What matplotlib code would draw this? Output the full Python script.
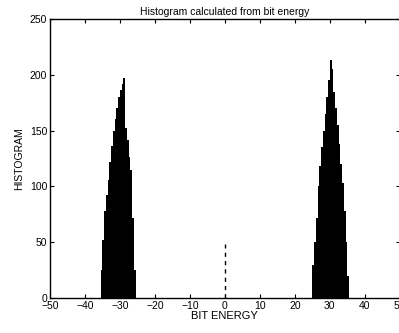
import numpy as np
import matplotlib.pyplot as plt

plt.rcParams['font.family'] = ['Liberation Sans', 'DejaVu Sans']

# histogram bins (width 0.5), left cluster around -30
left_edges = np.arange(-35.5, -25.5, 0.5)
left_counts = [25, 52, 78, 92, 106, 122, 136, 150, 160, 170,
               180, 186, 192, 197, 152, 142, 126, 115, 72, 25]

# right cluster around +30
right_edges = np.arange(25.0, 35.5, 0.5)
right_counts = [30, 50, 72, 100, 118, 135, 150, 165, 180, 195,
                213, 205, 185, 170, 155, 138, 120, 103, 78, 50, 20]

# small bin at zero energy (drawn dashed)
zero_energy = 0
zero_count = 48

bin_width = 0.5

fig = plt.figure(figsize=(3.99, 3.33), dpi=100)
ax = fig.add_axes([0.125, 0.105, 0.877, 0.838])

ax.bar(left_edges, left_counts, width=bin_width, align='edge',
       color='black', linewidth=0)
ax.bar(right_edges, right_counts, width=bin_width, align='edge',
       color='black', linewidth=0)
ax.vlines(zero_energy, 0, zero_count, colors='black', linestyles=(0, (3, 3)),
          linewidth=1)

ax.set_xlim(-50, 50)
ax.set_ylim(0, 250)
ax.set_xticks(np.arange(-50, 51, 10))
ax.set_yticks(np.arange(0, 251, 50))
ax.tick_params(direction='in', length=3, labelsize=7.5, top=True, right=True,
               pad=2)
for s in ax.spines.values():
    s.set_linewidth(1)

ax.set_title('Histogram calculated from bit energy', fontsize=7.5, pad=3)
ax.set_xlabel('BIT ENERGY', fontsize=8, labelpad=0)
ax.set_ylabel('HISTOGRAM', fontsize=7.5, labelpad=4)

fig.savefig('out.png', dpi=100)
